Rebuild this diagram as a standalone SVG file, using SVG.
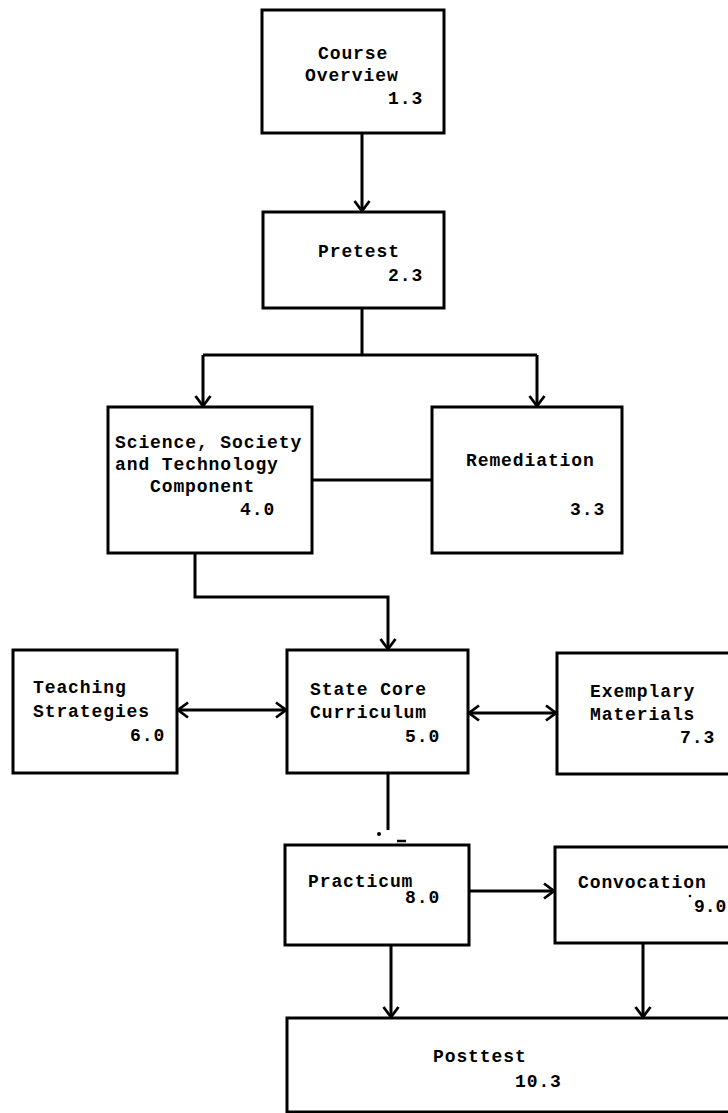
<svg xmlns="http://www.w3.org/2000/svg" width="728" height="1113" viewBox="0 0 728 1113">
  <style>
    .box { fill: #fff; stroke: #000; stroke-width: 3; }
    .wire { fill: none; stroke: #000; stroke-width: 3; }
    text { font-family: "Liberation Mono", "DejaVu Sans Mono", monospace; font-weight: bold; font-size: 18px; letter-spacing: 0.9px; fill: #000; }
  </style>
  <defs>
    <!-- open V arrowhead, tip on the line end -->
    <marker id="head" viewBox="0 0 12 18" refX="11" refY="9" markerWidth="12" markerHeight="18" markerUnits="userSpaceOnUse" orient="auto-start-reverse">
      <path d="M1,1.5 L11,9 L1,16.5" fill="none" stroke="#000" stroke-width="2.8"/>
    </marker>
  </defs>
  <rect width="728" height="1113" fill="#fff"/>

  <g id="connectors">
    <path class="wire" d="M362,133 V211" marker-end="url(#head)"/>
    <path class="wire" d="M362,308 V355"/>
    <path class="wire" d="M203,355 H537"/>
    <path class="wire" d="M203,355 V406" marker-end="url(#head)"/>
    <path class="wire" d="M537,355 V406" marker-end="url(#head)"/>
    <path class="wire" d="M312,480 H432"/>
    <path class="wire" d="M195,553 V597 H388 V649" marker-end="url(#head)"/>
    <path class="wire" d="M178,710 H286" marker-start="url(#head)" marker-end="url(#head)"/>
    <path class="wire" d="M469,713 H556" marker-start="url(#head)" marker-end="url(#head)"/>
    <path class="wire" d="M388,773 V830"/>
    <circle cx="379" cy="834" r="2" fill="#000"/>
    <path d="M397,841 H406" stroke="#000" stroke-width="2.5"/>
    <path class="wire" d="M469,891 H554" marker-end="url(#head)"/>
    <path class="wire" d="M391,945 V1017" marker-end="url(#head)"/>
    <path class="wire" d="M643,943 V1017" marker-end="url(#head)"/>
  </g>

  <g id="course-overview">
    <rect class="box" x="262" y="10" width="182" height="123"/>
    <text x="318" y="59">Course</text>
    <text x="305" y="81">Overview</text>
    <text x="388" y="104">1.3</text>
  </g>

  <g id="pretest">
    <rect class="box" x="263" y="212" width="181" height="96"/>
    <text x="318" y="257">Pretest</text>
    <text x="388" y="281">2.3</text>
  </g>

  <g id="sst-component">
    <rect class="box" x="108" y="407" width="204" height="146"/>
    <text x="115" y="448">Science, Society</text>
    <text x="115" y="470">and Technology</text>
    <text x="150" y="492">Component</text>
    <text x="240" y="515">4.0</text>
  </g>

  <g id="remediation">
    <rect class="box" x="432" y="407" width="190" height="146"/>
    <text x="466" y="466">Remediation</text>
    <text x="570" y="515">3.3</text>
  </g>

  <g id="teaching-strategies">
    <rect class="box" x="13" y="650" width="164" height="123"/>
    <text x="33" y="693">Teaching</text>
    <text x="33" y="717">Strategies</text>
    <text x="130" y="741">6.0</text>
  </g>

  <g id="state-core">
    <rect class="box" x="287" y="650" width="181" height="123"/>
    <text x="310" y="695">State Core</text>
    <text x="310" y="718">Curriculum</text>
    <text x="405" y="742">5.0</text>
  </g>

  <g id="exemplary-materials">
    <rect class="box" x="557" y="653" width="185" height="121"/>
    <text x="590" y="697">Exemplary</text>
    <text x="590" y="720">Materials</text>
    <text x="680" y="743">7.3</text>
  </g>

  <g id="practicum">
    <rect class="box" x="285" y="845" width="184" height="100"/>
    <text x="308" y="887">Practicum</text>
    <text x="405" y="903">8.0</text>
  </g>

  <g id="convocation">
    <rect class="box" x="555" y="847" width="190" height="96"/>
    <text x="578" y="888">Convocation</text>
    <circle cx="690" cy="896" r="1.3" fill="#000"/>
    <text x="694" y="912" style="letter-spacing:0">9.0</text>
  </g>

  <g id="posttest">
    <rect class="box" x="287" y="1018" width="460" height="94"/>
    <text x="433" y="1062">Posttest</text>
    <text x="515" y="1087">10.3</text>
  </g>
</svg>
